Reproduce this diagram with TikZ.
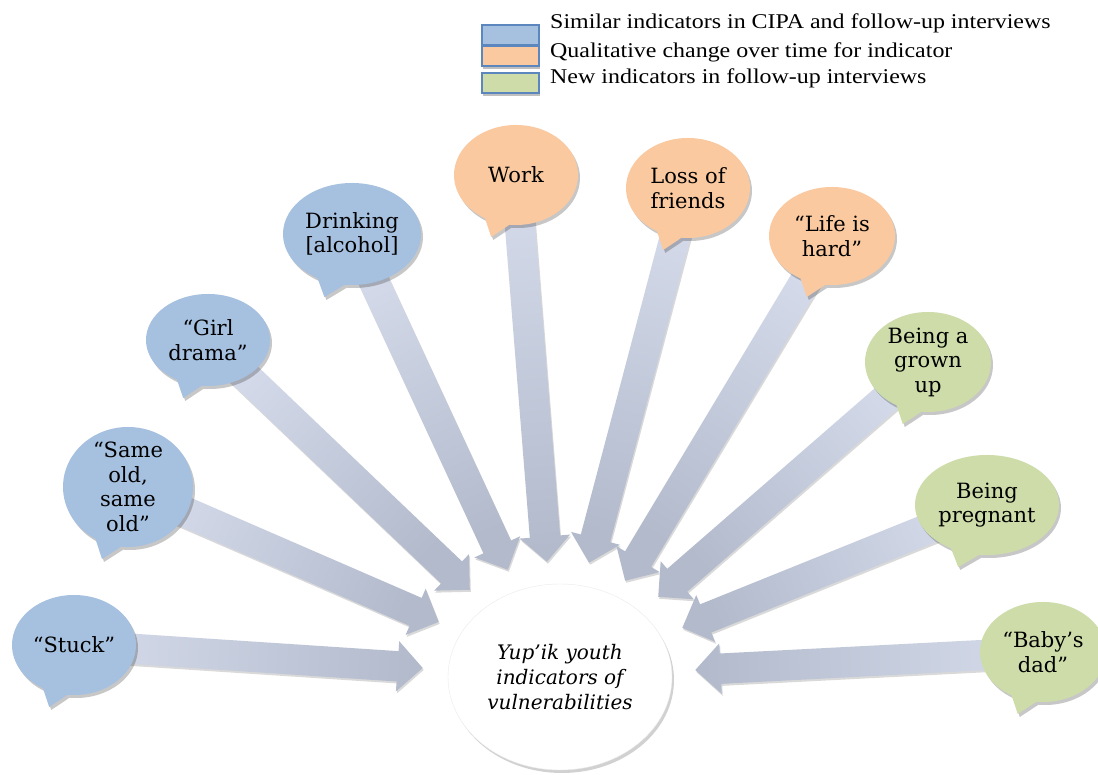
\documentclass[tikz,border=0pt]{standalone}
\usepackage{fontspec}
\setmainfont{DejaVu Serif}
\newfontfamily\legendfont[FakeStretch=1.14]{Liberation Serif}
\usetikzlibrary{shapes.geometric,shapes.arrows,shadows,calc}
\pgfdeclarelayer{bg}
\pgfsetlayers{bg,main}
\definecolor{bubblue}{HTML}{A6C0DF}
\definecolor{buborange}{HTML}{FAC9A0}
\definecolor{bubgreen}{HTML}{CDDCA9}
\definecolor{legborder}{HTML}{5B87BE}
\definecolor{arrlight}{HTML}{D5DBEA}
\definecolor{arrdark}{HTML}{B2BACC}
\tikzset{
  x=1pt, y=1pt,
  bubtext/.style={align=center, font=\fontsize{21}{24.5}\selectfont, inner sep=0pt},
  bubshadow/.style={drop shadow={opacity=0.22, fill=black, shadow xshift=2pt, shadow yshift=-3pt}},
  arrowshape/.style={single arrow, single arrow head extend=10pt,
    inner xsep=0pt, inner ysep=15pt,
    drop shadow={opacity=0.15, fill=black, shadow xshift=1pt, shadow yshift=-2pt}},
  blockarrow/.style={to path={
    let \p1=(\tikztostart), \p2=(\tikztotarget),
        \n1={atan2(\y2-\y1,\x2-\x1)}, \n2={veclen(\x2-\x1,\y2-\y1)} in
    node[arrowshape, minimum height=\n2, rotate=\n1, anchor=tip,
         top color=arrdark, bottom color=arrlight, shading angle={\n1-90}] at (\p2) {}}},
  legbox/.style={rectangle, minimum width=57pt, minimum height=20pt, draw=legborder,
    line width=1.5pt, drop shadow={opacity=0.25, fill=black, shadow xshift=1pt, shadow yshift=-3pt}},
  legtext/.style={anchor=west, inner sep=0pt, font=\legendfont\fontsize{21}{24}\selectfont},
  centernode/.style={ellipse, fill=white, draw=black!8, minimum width=224pt, minimum height=186pt,
    align=center, inner sep=0pt, font=\itshape\fontsize{20}{25}\selectfont,
    drop shadow={opacity=0.18, fill=black, shadow xshift=2pt, shadow yshift=-3pt}}
}
\newcommand\bubshape[4]{%
  \fill[#4, bubshadow] ($(#1.center)+(264:#2 and #3)$)
    arc[start angle=264, end angle=600, x radius=#2, y radius=#3]
    -- ($(#1.center)+({-0.4*#2},{-#3-12})$) -- cycle;}
\begin{document}
\begin{tikzpicture}
\begin{pgfonlayer}{bg}
\fill[white] (0,0) rectangle (1098,774);
\end{pgfonlayer}
\useasboundingbox (0,0) rectangle (1098,774);

% legend
\node[legbox, fill=bubblue] (lb1) at (510.5,739) {};
\node[legbox, fill=buborange] (lb2) at (510.5,718) {};
\node[legbox, fill=bubgreen] (lb3) at (510.5,691) {};
\node[legtext] (lt1) at (550,751) {Similar indicators in CIPA and follow-up interviews};
\node[legtext] (lt2) at (550,722) {Qualitative change over time for indicator};
\node[legtext] (lt3) at (550,696) {New indicators in follow-up interviews};

% centre
\node[centernode] (core) at (560,97) {Yup’ik youth\\indicators of\\vulnerabilities};

% bubble texts
\node[bubtext] (stuck) at (74,129) {“Stuck”};
\node[bubtext] (same)  at (128,287) {“Same\\old,\\same\\old”};
\node[bubtext] (girl)  at (208,434) {“Girl\\drama”};
\node[bubtext] (drink) at (352,540) {Drinking\\{[alcohol]}};
\node[bubtext] (work)  at (516,599) {Work};
\node[bubtext] (loss)  at (688,586) {Loss of\\friends};
\node[bubtext] (life)  at (832,538) {“Life is\\hard”};
\node[bubtext] (grown) at (928,412) {Being a\\grown\\up};
\node[bubtext] (preg)  at (987,269) {Being\\pregnant};
\node[bubtext] (baby)  at (1043,122) {“Baby’s\\dad”};

% arrow tips
\coordinate (t1) at (423,106);
\coordinate (t2) at (439,152);
\coordinate (t3) at (470,184);
\coordinate (t4) at (508,204);
\coordinate (t5) at (547,212);
\coordinate (t6) at (589,211);
\coordinate (t7) at (625,193);
\coordinate (t8) at (658,177);
\coordinate (t9) at (682,146);
\coordinate (t10) at (695,104);

\begin{pgfonlayer}{bg}
\path (stuck) to[blockarrow] (t1);
\path (same)  to[blockarrow] (t2);
\path (girl)  to[blockarrow] (t3);
\path (drink) to[blockarrow] (t4);
\path (work)  to[blockarrow] (t5);
\path (loss)  to[blockarrow] (t6);
\path (life)  to[blockarrow] (t7);
\path (grown) to[blockarrow] (t8);
\path (preg)  to[blockarrow] (t9);
\path (baby)  to[blockarrow] (t10);

\bubshape{stuck}{62}{50}{bubblue}
\bubshape{same}{65}{60}{bubblue}
\bubshape{girl}{62}{46}{bubblue}
\bubshape{drink}{69}{51}{bubblue}
\bubshape{work}{62}{50}{buborange}
\bubshape{loss}{62}{50}{buborange}
\bubshape{life}{63}{49}{buborange}
\bubshape{grown}{63}{50}{bubgreen}
\bubshape{preg}{72}{50}{bubgreen}
\bubshape{baby}{63}{50}{bubgreen}
\end{pgfonlayer}
\end{tikzpicture}
\end{document}
